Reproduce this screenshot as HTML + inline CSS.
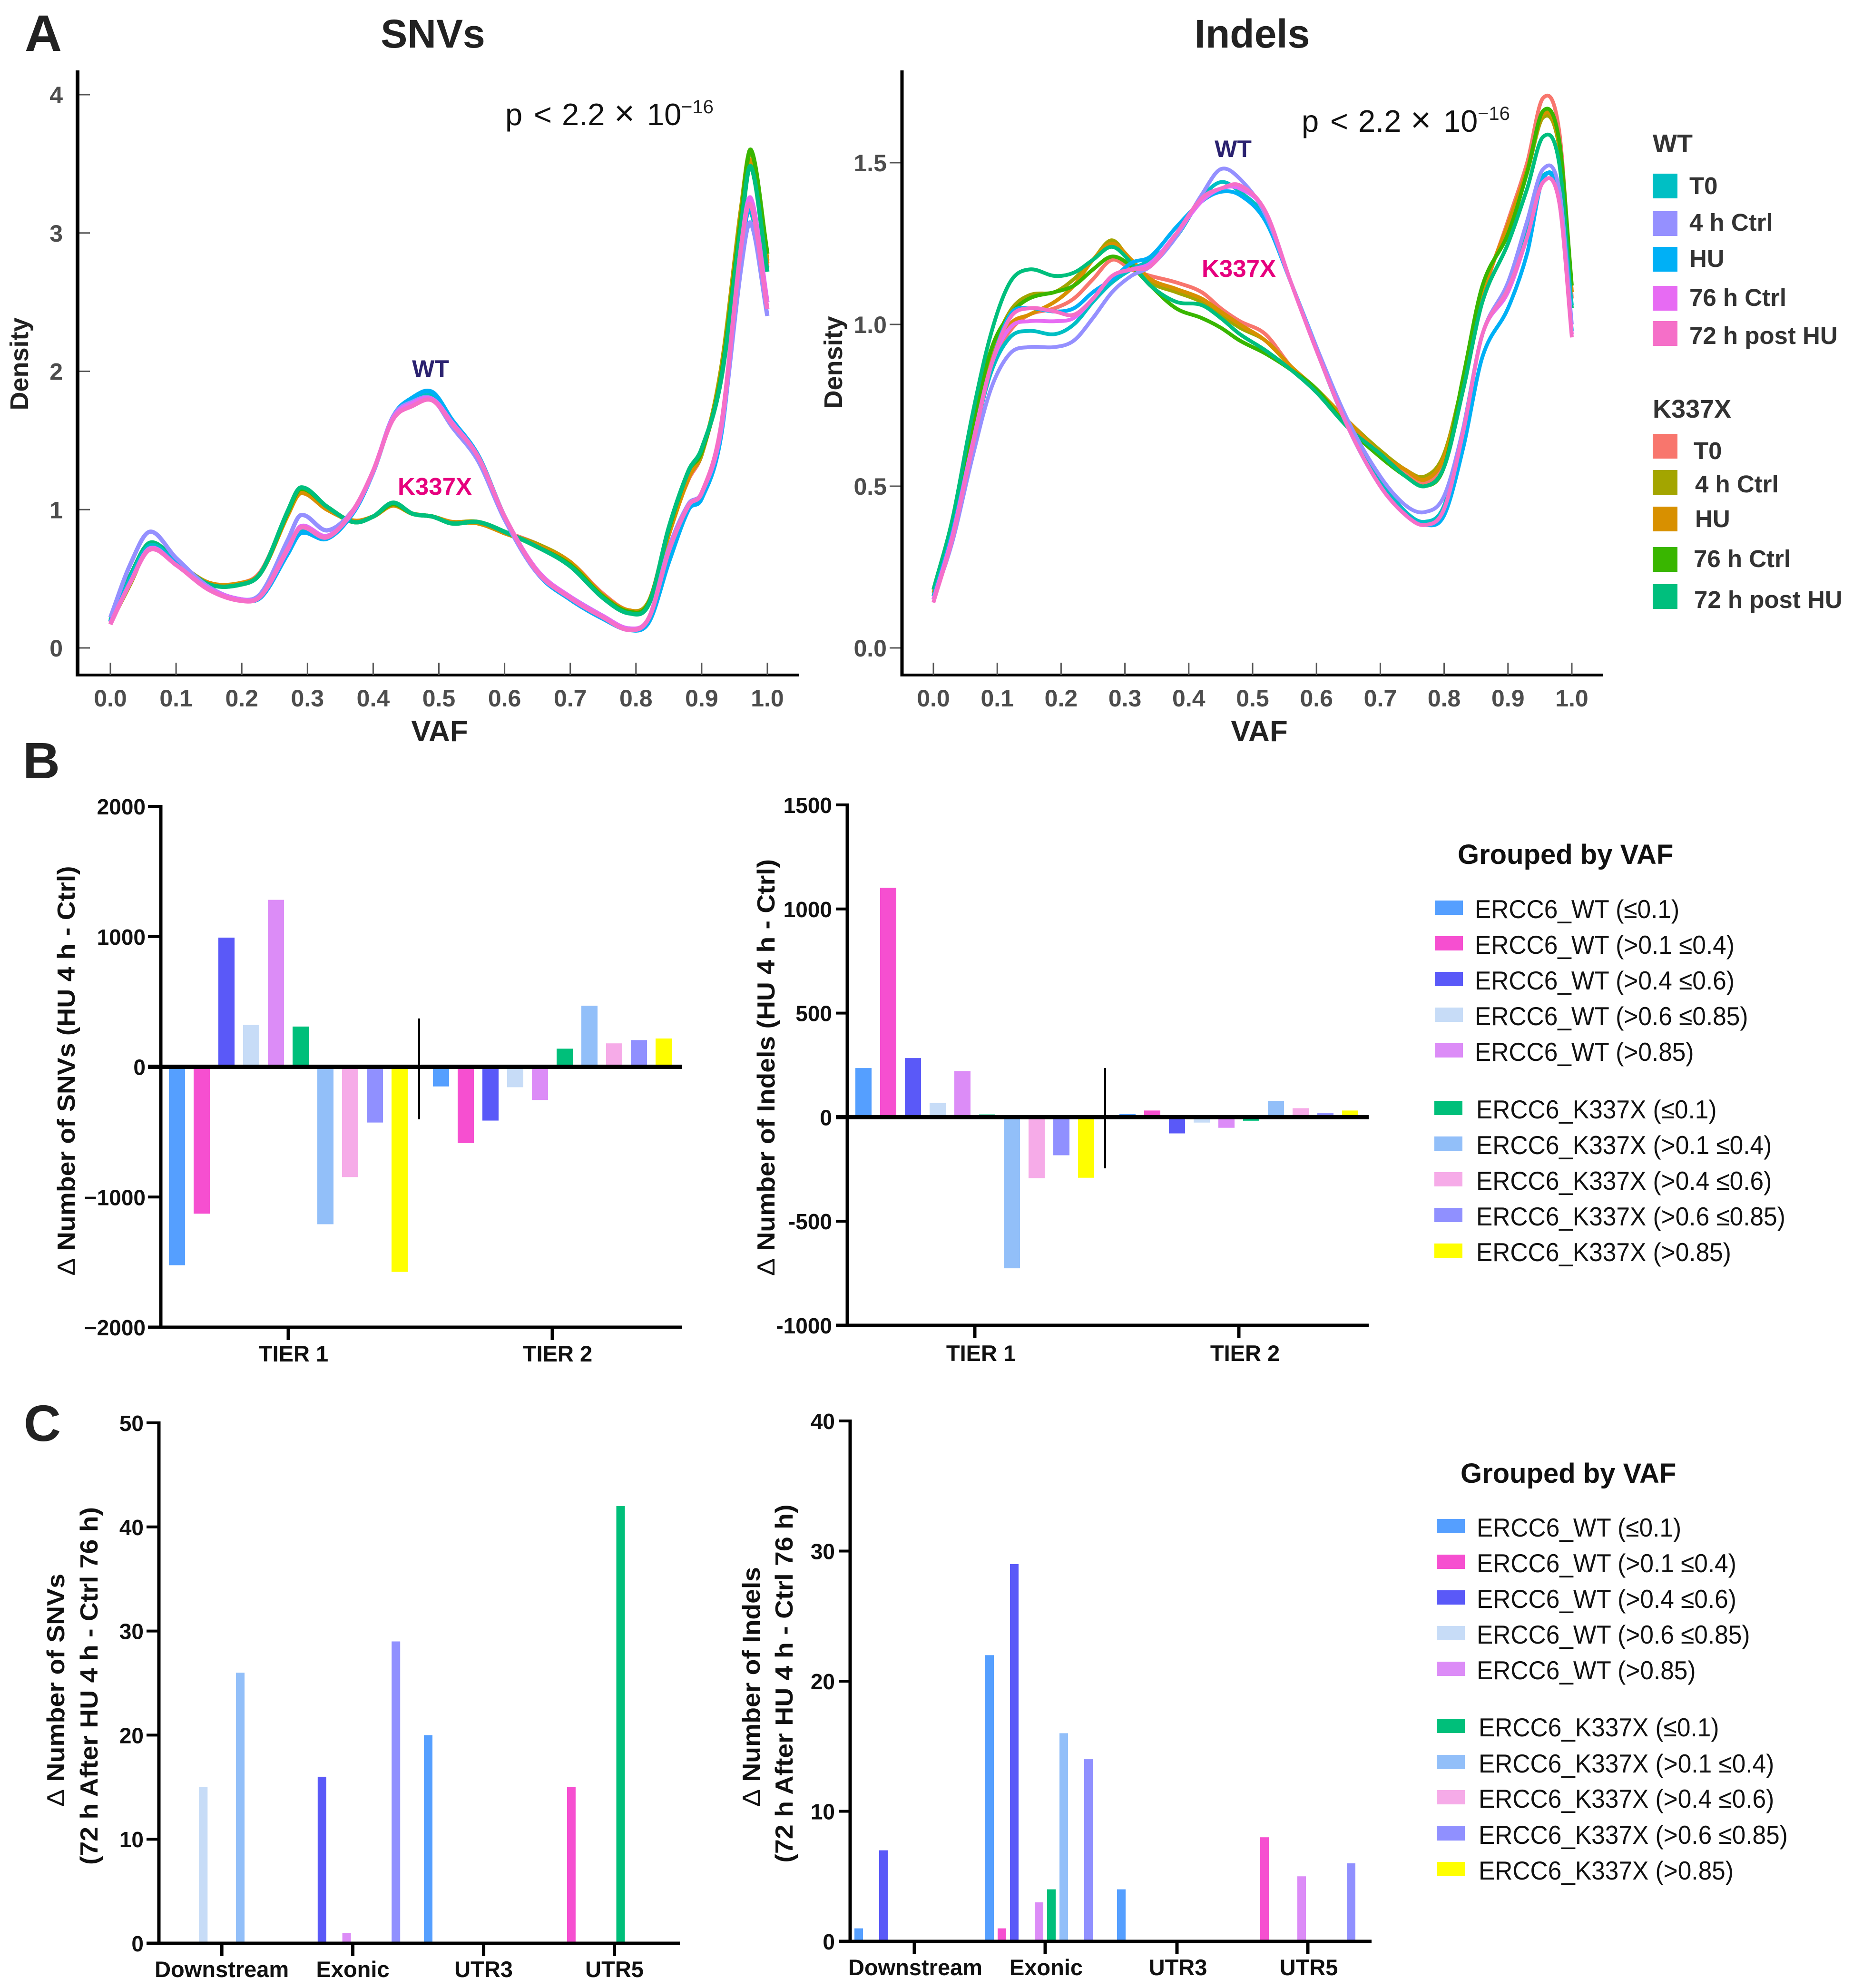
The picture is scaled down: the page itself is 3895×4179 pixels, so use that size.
<!DOCTYPE html>
<html lang="en">
<head>
<meta charset="utf-8">
<title>Density and variant count charts</title>
<style>
html,body{margin:0;padding:0;background:#fff;width:3895px;height:4179px;overflow:hidden}
svg{display:block;font-family:"Liberation Sans",sans-serif}
.panel{font-weight:700;font-size:108px;fill:#222}
.title{font-weight:700;font-size:84px;fill:#222;text-anchor:middle}
.axt{font-weight:700;font-size:62px;fill:#222;text-anchor:middle}
.dens{font-weight:700;font-size:54px;fill:#222;text-anchor:middle}
.ytitle{font-weight:700;font-size:52px;fill:#111;text-anchor:middle}
.delta{font-weight:400}
.p{font-size:65px;fill:#111}
.px{font-size:74px}
.p2{font-size:40px;fill:#222}
.wt{font-weight:700;font-size:50px;fill:#2b2270;text-anchor:middle}
.k{font-weight:700;font-size:51px;fill:#e6007e;text-anchor:middle}
.lgh{font-weight:700;font-size:54px;fill:#333}
.lgt{font-weight:700;font-size:51px;fill:#333}
.lg2h{font-weight:700;font-size:58px;fill:#111}
.lg2t{font-size:55px;fill:#111}
</style>
</head>
<body>
<svg id="fig" xmlns="http://www.w3.org/2000/svg" width="3895" height="4179" viewBox="0 0 3895 4179">
<rect width="3895" height="4179" fill="#fff"/>
<text class="panel" x="52" y="107">A</text>
<text class="panel" x="48" y="1636">B</text>
<text class="panel" x="50" y="3029" font-size="115">C</text>
<text class="title" x="910" y="100">SNVs</text>
<text class="title" x="2632" y="100">Indels</text>

<g id="densSnv"></g>
<g id="densIndel"></g>
<g id="barSnvTier"></g>
<g id="barIndelTier"></g>
<g id="barSnvRegion"></g>
<g id="barIndelRegion"></g>

<text class="dens" transform="translate(59 765) rotate(-90)">Density</text>
<text class="dens" transform="translate(1770 762) rotate(-90)">Density</text>
<text class="axt" x="924" y="1558">VAF</text>
<text class="axt" x="2647" y="1558">VAF</text>

<text class="p" y="263"><tspan x="1062">p</tspan><tspan x="1122">&lt;</tspan><tspan x="1181">2.2</tspan><tspan class="px" x="1291">×</tspan><tspan x="1360">10</tspan><tspan class="p2" x="1432" y="238">−16</tspan></text>
<text class="p" y="277"><tspan x="2736">p</tspan><tspan x="2796">&lt;</tspan><tspan x="2855">2.2</tspan><tspan class="px" x="2965">×</tspan><tspan x="3034">10</tspan><tspan class="p2" x="3106" y="252">−16</tspan></text>
<text class="wt" x="905" y="792">WT</text>
<text class="k" x="914" y="1040">K337X</text>
<text class="wt" x="2592" y="330">WT</text>
<text class="k" x="2604" y="582">K337X</text>

<text class="ytitle" transform="translate(157 2251) rotate(-90)" textLength="861" lengthAdjust="spacingAndGlyphs"><tspan class="delta">Δ</tspan> Number of SNVs (HU 4 h - Ctrl)</text>
<text class="ytitle" transform="translate(1628 2244) rotate(-90)" textLength="876" lengthAdjust="spacingAndGlyphs"><tspan class="delta">Δ</tspan> Number of Indels (HU 4 h - Ctrl)</text>
<text class="ytitle" transform="translate(135 3553) rotate(-90)" textLength="490" lengthAdjust="spacingAndGlyphs"><tspan class="delta">Δ</tspan> Number of SNVs</text>
<text class="ytitle" transform="translate(205 3544) rotate(-90)" textLength="752" lengthAdjust="spacingAndGlyphs">(72 h After HU 4 h - Ctrl 76 h)</text>
<text class="ytitle" transform="translate(1597 3546) rotate(-90)" textLength="504" lengthAdjust="spacingAndGlyphs"><tspan class="delta">Δ</tspan> Number of Indels</text>
<text class="ytitle" transform="translate(1666 3539) rotate(-90)" textLength="753" lengthAdjust="spacingAndGlyphs">(72 h After HU 4 h - Ctrl 76 h)</text>

<g>
<text class="lgh" x="3474" y="320">WT</text>
<g><rect x="3474" y="365" width="52" height="52" fill="#00bfc4"/><text class="lgt" x="3551" y="408">T0</text></g>
<g><rect x="3474" y="444" width="52" height="52" fill="#9590ff"/><text class="lgt" x="3551" y="485">4 h Ctrl</text></g>
<g><rect x="3474" y="519" width="52" height="52" fill="#00b0f6"/><text class="lgt" x="3551" y="561">HU</text></g>
<g><rect x="3474" y="601" width="52" height="52" fill="#e76bf3"/><text class="lgt" x="3551" y="643">76 h Ctrl</text></g>
<g><rect x="3474" y="675" width="52" height="52" fill="#f56fc8"/><text class="lgt" x="3551" y="723">72 h post HU</text></g>
<text class="lgh" x="3474" y="878">K337X</text>
<g><rect x="3474" y="912" width="52" height="52" fill="#f8766d"/><text class="lgt" x="3560" y="965">T0</text></g>
<g><rect x="3474" y="988" width="52" height="52" fill="#a3a500"/><text class="lgt" x="3563" y="1035">4 h Ctrl</text></g>
<g><rect x="3474" y="1065" width="52" height="52" fill="#d89000"/><text class="lgt" x="3563" y="1108">HU</text></g>
<g><rect x="3474" y="1150" width="52" height="52" fill="#39b600"/><text class="lgt" x="3560" y="1192">76 h Ctrl</text></g>
<g><rect x="3474" y="1228" width="52" height="52" fill="#00bf7d"/><text class="lgt" x="3561" y="1278">72 h post HU</text></g>
</g>

<g>
<text class="lg2h" x="3064" y="1816">Grouped by VAF</text>
<g><rect x="3016" y="1893" width="59" height="30" fill="#559fff"/><text class="lg2t" transform="translate(3100 1930) scale(.935 1)">ERCC6_WT (≤0.1)</text></g>
<g><rect x="3016" y="1968" width="59" height="30" fill="#f64fd0"/><text class="lg2t" transform="translate(3100 2005) scale(.935 1)">ERCC6_WT (&gt;0.1 ≤0.4)</text></g>
<g><rect x="3016" y="2043" width="59" height="30" fill="#5a59f8"/><text class="lg2t" transform="translate(3100 2080) scale(.935 1)">ERCC6_WT (&gt;0.4 ≤0.6)</text></g>
<g><rect x="3016" y="2118" width="59" height="30" fill="#c7dcf7"/><text class="lg2t" transform="translate(3100 2155) scale(.935 1)">ERCC6_WT (&gt;0.6 ≤0.85)</text></g>
<g><rect x="3016" y="2193" width="59" height="30" fill="#dc8cf7"/><text class="lg2t" transform="translate(3100 2230) scale(.935 1)">ERCC6_WT (&gt;0.85)</text></g>
<g><rect x="3015" y="2314" width="59" height="30" fill="#00bf7a"/><text class="lg2t" transform="translate(3103 2351) scale(.935 1)">ERCC6_K337X (≤0.1)</text></g>
<g><rect x="3015" y="2389" width="59" height="30" fill="#92bff9"/><text class="lg2t" transform="translate(3103 2426) scale(.935 1)">ERCC6_K337X (&gt;0.1 ≤0.4)</text></g>
<g><rect x="3015" y="2464" width="59" height="30" fill="#f6abe8"/><text class="lg2t" transform="translate(3103 2501) scale(.935 1)">ERCC6_K337X (&gt;0.4 ≤0.6)</text></g>
<g><rect x="3015" y="2539" width="59" height="30" fill="#9090ff"/><text class="lg2t" transform="translate(3103 2576) scale(.935 1)">ERCC6_K337X (&gt;0.6 ≤0.85)</text></g>
<g><rect x="3015" y="2614" width="59" height="30" fill="#ffff00"/><text class="lg2t" transform="translate(3103 2651) scale(.935 1)">ERCC6_K337X (&gt;0.85)</text></g>
</g>

<g>
<text class="lg2h" x="3070" y="3117">Grouped by VAF</text>
<g><rect x="3020" y="3193" width="59" height="30" fill="#559fff"/><text class="lg2t" transform="translate(3104 3230) scale(.935 1)">ERCC6_WT (≤0.1)</text></g>
<g><rect x="3020" y="3268" width="59" height="30" fill="#f64fd0"/><text class="lg2t" transform="translate(3104 3305) scale(.935 1)">ERCC6_WT (&gt;0.1 ≤0.4)</text></g>
<g><rect x="3020" y="3343" width="59" height="30" fill="#5a59f8"/><text class="lg2t" transform="translate(3104 3380) scale(.935 1)">ERCC6_WT (&gt;0.4 ≤0.6)</text></g>
<g><rect x="3020" y="3418" width="59" height="30" fill="#c7dcf7"/><text class="lg2t" transform="translate(3104 3455) scale(.935 1)">ERCC6_WT (&gt;0.6 ≤0.85)</text></g>
<g><rect x="3020" y="3493" width="59" height="30" fill="#dc8cf7"/><text class="lg2t" transform="translate(3104 3530) scale(.935 1)">ERCC6_WT (&gt;0.85)</text></g>
<g><rect x="3020" y="3613" width="59" height="30" fill="#00bf7a"/><text class="lg2t" transform="translate(3108 3650) scale(.935 1)">ERCC6_K337X (≤0.1)</text></g>
<g><rect x="3020" y="3689" width="59" height="30" fill="#92bff9"/><text class="lg2t" transform="translate(3108 3726) scale(.935 1)">ERCC6_K337X (&gt;0.1 ≤0.4)</text></g>
<g><rect x="3020" y="3763" width="59" height="30" fill="#f6abe8"/><text class="lg2t" transform="translate(3108 3800) scale(.935 1)">ERCC6_K337X (&gt;0.4 ≤0.6)</text></g>
<g><rect x="3020" y="3839" width="59" height="30" fill="#9090ff"/><text class="lg2t" transform="translate(3108 3876) scale(.935 1)">ERCC6_K337X (&gt;0.6 ≤0.85)</text></g>
<g><rect x="3020" y="3914" width="59" height="30" fill="#ffff00"/><text class="lg2t" transform="translate(3108 3951) scale(.935 1)">ERCC6_K337X (&gt;0.85)</text></g>
</g>
</svg>

<script>
// ---------- density chart data ----------
const vafTicks = [0,0.1,0.2,0.3,0.4,0.5,0.6,0.7,0.8,0.9,1];
const snvDensityTicks = [0,1,2,3,4];
const indelDensityTicks = [0,0.5,1,1.5];

const snvVaf = [0,.03,.06,.1,.15,.2,.23,.27,.29,.33,.37,.4,.43,.46,.49,.52,.56,.6,.65,.7,.75,.79,.82,.85,.88,.9,.93,.96,.975,1];
const snvK337xT0 = [.18,.47,.72,.62,.47,.47,.56,.97,1.12,1.0,.92,.95,1.03,.97,.95,.91,.91,.84,.75,.62,.39,.27,.34,.85,1.22,1.40,2.0,3.15,3.52,2.75];
const snvK337x4h = [.18,.46,.73,.62,.47,.46,.55,.97,1.13,1.01,.91,.95,1.03,.97,.95,.91,.91,.83,.75,.62,.38,.27,.34,.83,1.25,1.40,2.03,3.18,3.58,2.8];
const snvK337xHu = [.18,.47,.73,.62,.47,.47,.55,.96,1.12,1.0,.92,.95,1.03,.97,.95,.91,.9,.83,.74,.62,.38,.27,.33,.82,1.23,1.41,2.0,3.15,3.52,2.78];
const snvK337x76h = [.19,.5,.75,.63,.46,.46,.55,.98,1.15,1.02,.91,.95,1.04,.97,.95,.9,.91,.84,.73,.6,.37,.26,.33,.86,1.28,1.42,1.98,3.12,3.6,2.85];
const snvK337x72h = [.2,.52,.76,.63,.46,.46,.55,.99,1.16,1.02,.91,.95,1.05,.97,.95,.9,.91,.84,.73,.59,.36,.25,.32,.87,1.28,1.44,1.95,3.05,3.48,2.72];
const snvWtT0 = [.19,.5,.74,.62,.43,.35,.38,.70,.85,.8,.98,1.27,1.66,1.78,1.82,1.63,1.39,.95,.55,.35,.22,.14,.2,.65,1.01,1.10,1.58,2.9,3.15,2.5];
const snvWt4h = [.22,.6,.84,.65,.44,.35,.40,.78,.96,.85,1.0,1.27,1.67,1.78,1.8,1.6,1.35,.93,.54,.37,.23,.13,.22,.72,1.04,1.12,1.58,2.75,3.07,2.4];
const snvWtHu = [.19,.48,.72,.61,.43,.35,.37,.68,.83,.79,.98,1.27,1.67,1.81,1.85,1.65,1.39,.95,.54,.35,.21,.13,.19,.62,1.0,1.08,1.55,2.85,3.18,2.5];
const snvWt76h = [.18,.47,.72,.60,.43,.35,.38,.71,.88,.81,.99,1.28,1.66,1.77,1.8,1.63,1.38,.95,.56,.37,.23,.14,.22,.7,1.03,1.12,1.60,2.9,3.25,2.5];
const snvWt72h = [.17,.47,.71,.60,.42,.34,.38,.72,.87,.80,1.0,1.28,1.65,1.75,1.79,1.62,1.38,.95,.55,.36,.22,.13,.22,.70,1.03,1.12,1.62,2.9,3.20,2.45];

const indelVaf = [0,.03,.06,.09,.12,.15,.19,.22,.25,.28,.31,.34,.38,.42,.45,.48,.52,.56,.6,.65,.7,.74,.77,.8,.83,.86,.9,.93,.955,.98,1];
const indelK337xT0 = [.16,.36,.63,.87,.98,1.03,1.05,1.08,1.14,1.2,1.17,1.15,1.13,1.1,1.05,1.01,.97,.87,.8,.69,.59,.54,.51,.57,.8,1.08,1.32,1.5,1.7,1.6,1.08];
const indelK337x4h = [.18,.38,.66,.9,1.04,1.09,1.1,1.14,1.2,1.26,1.19,1.13,1.1,1.07,1.03,.99,.95,.87,.8,.7,.61,.55,.53,.6,.83,1.1,1.3,1.47,1.64,1.55,1.1];
const indelK337xHu = [.17,.37,.64,.88,1.0,1.03,1.07,1.12,1.2,1.25,1.2,1.14,1.11,1.08,1.04,1.0,.95,.87,.8,.7,.6,.55,.52,.59,.82,1.09,1.31,1.48,1.65,1.56,1.1];
const indelK337x76h = [.18,.38,.67,.92,1.03,1.08,1.1,1.12,1.17,1.21,1.18,1.12,1.05,1.02,.99,.95,.91,.86,.8,.68,.59,.53,.5,.56,.84,1.12,1.28,1.47,1.66,1.57,1.12];
const indelK337x72h = [.18,.40,.71,.97,1.13,1.17,1.15,1.16,1.2,1.24,1.19,1.12,1.07,1.06,1.02,.97,.92,.86,.79,.68,.6,.53,.5,.56,.8,1.07,1.25,1.42,1.58,1.5,1.05];
const indelWtT0 = [.16,.36,.62,.85,.96,.98,.97,1.0,1.07,1.13,1.17,1.2,1.27,1.39,1.44,1.41,1.33,1.13,.92,.68,.52,.42,.39,.44,.68,.97,1.12,1.3,1.46,1.4,1.06];
const indelWt4h = [.15,.33,.58,.8,.91,.93,.93,.95,1.02,1.1,1.15,1.18,1.27,1.4,1.48,1.45,1.34,1.13,.93,.7,.53,.44,.42,.47,.68,.97,1.13,1.32,1.48,1.42,1.0];
const indelWtHu = [.15,.36,.62,.87,1.03,1.05,1.04,1.05,1.1,1.14,1.19,1.21,1.3,1.38,1.41,1.4,1.32,1.13,.93,.68,.5,.41,.38,.41,.62,.9,1.05,1.22,1.45,1.4,.98];
const indelWt76h = [.15,.35,.62,.87,.99,1.01,1.01,1.02,1.08,1.15,1.17,1.19,1.28,1.38,1.42,1.42,1.35,1.13,.92,.68,.5,.41,.38,.43,.67,.97,1.1,1.27,1.44,1.38,.97];
const indelWt72h = [.14,.34,.61,.87,1.02,1.05,1.04,1.03,1.08,1.15,1.17,1.18,1.28,1.39,1.42,1.43,1.35,1.13,.92,.68,.5,.41,.38,.43,.67,.97,1.11,1.27,1.44,1.38,.96];

// ---------- bar chart data (order: WT five bins, then K337X five bins) ----------
const vafBins = ['wt-le-0.1','wt-0.1-0.4','wt-0.4-0.6','wt-0.6-0.85','wt-gt-0.85','k337x-le-0.1','k337x-0.1-0.4','k337x-0.4-0.6','k337x-0.6-0.85','k337x-gt-0.85'];
const tierCategories = ['TIER 1','TIER 2'];
const regionCategories = ['Downstream','Exonic','UTR3','UTR5'];

const snvTier1 = [-1524,-1128,992,321,1282,309,-1209,-847,-428,-1575];
const snvTier2 = [-151,-586,-413,-157,-255,139,469,180,205,217];
const snvTierTicks = [2000,1000,0,-1000,-2000];
const snvTierTickLabels = ['2000','1000','0','−1000','−2000'];

const indelTier1 = [236,1102,284,68,221,13,-726,-293,-183,-291];
const indelTier2 = [15,32,-78,-26,-51,-17,78,43,19,32];
const indelTierTicks = [1500,1000,500,0,-500,-1000];
const indelTierTickLabels = ['1500','1000','500','0','-500','-1000'];

const snvDownstream = [0,0,0,15,0,0,26,0,0,0];
const snvExonic = [0,0,16,0,1,0,0,0,29,0];
const snvUtr3 = [20,0,0,0,0,0,0,0,0,0];
const snvUtr5 = [0,15,0,0,0,42,0,0,0,0];
const snvRegionTicks = [50,40,30,20,10,0];
const snvRegionTickLabels = ['50','40','30','20','10','0'];

const indelDownstream = [1,0,7,0,0,0,0,0,0,0];
const indelExonic = [22,1,29,0,3,4,16,0,14,0];
const indelUtr3 = [4,0,0,0,0,0,0,0,0,0];
const indelUtr5 = [0,8,0,0,5,0,0,0,6,0];
const indelRegionTicks = [40,30,20,10,0];
const indelRegionTickLabels = ['40','30','20','10','0'];

// ---------- drawing ----------
const NS = 'http://www.w3.org/2000/svg';
const barColors = ['#559fff','#f64fd0','#5a59f8','#c7dcf7','#dc8cf7','#00bf7a','#92bff9','#f6abe8','#9090ff','#ffff00'];

function node(parent, tag, attrs, txt){
  const el = document.createElementNS(NS, tag);
  for (const k in attrs) el.setAttribute(k, attrs[k]);
  if (txt !== undefined) el.textContent = txt;
  parent.appendChild(el);
  return el;
}
function linear(d0, d1, r0, r1){ return v => r0 + (v - d0) * (r1 - r0) / (d1 - d0); }

function smoothPath(xs, ys, sx, sy){
  const n = xs.length, m = [];
  for (let i = 0; i < n; i++){
    const a = Math.max(0, i - 1), b = Math.min(n - 1, i + 1);
    m[i] = (ys[b] - ys[a]) / (xs[b] - xs[a]);
  }
  let d = 'M' + sx(xs[0]).toFixed(1) + ' ' + sy(ys[0]).toFixed(1);
  for (let i = 0; i < n - 1; i++){
    const h = (xs[i + 1] - xs[i]) / 3;
    d += 'C' + sx(xs[i] + h).toFixed(1) + ' ' + sy(ys[i] + m[i] * h).toFixed(1) + ' '
       + sx(xs[i + 1] - h).toFixed(1) + ' ' + sy(ys[i + 1] - m[i + 1] * h).toFixed(1) + ' '
       + sx(xs[i + 1]).toFixed(1) + ' ' + sy(ys[i + 1]).toFixed(1);
  }
  return d;
}

function drawDensity(o){
  const g = document.getElementById(o.id);
  const sx = linear(0, 1, o.x0, o.x1);
  const sy = linear(0, o.vRef, o.y0, o.yRef);
  const ax = node(g, 'line', {x1:o.ax, x2:o.ax, y1:148, y2:o.base + 3, stroke:'#000', 'stroke-width':o.axw});
  
  
  const bx = node(g, 'line', {x1:o.ax - o.axw / 2, x2:o.end, y1:o.base, y2:o.base, stroke:'#000', 'stroke-width':6});
  
  
  vafTicks.forEach(t => {
    const tk = node(g, 'line', {x1:sx(t), x2:sx(t), y1:o.base - 26, y2:o.base, stroke:'#555', 'stroke-width':3});
    
    
    const lb = node(g, 'text', {x:sx(t), y:o.base + 66, 'text-anchor':'middle', 'font-size':o.tickFont, 'font-weight':700, fill:'#4d4d4d'}, t.toFixed(1));
    
    
  });
  o.yTicks.forEach(t => {
    const tk = node(g, 'line', {x1:o.ax + o.tickDir * (o.axw / 2), x2:o.ax + o.tickDir * 26, y1:sy(t), y2:sy(t), stroke:'#555', 'stroke-width':3});
    
    
    const lb = node(g, 'text', {x:o.labelRight, y:sy(t) + 18, 'text-anchor':'end', 'font-size':o.tickFont, 'font-weight':700, fill:'#4d4d4d'}, o.fmt(t));
    
    
  });
  o.series.forEach(s => {
    const p = node(g, 'path', {d:smoothPath(o.xs, s[1], sx, sy), fill:'none', stroke:s[2], 'stroke-width':o.lw, 'stroke-linejoin':'round'});
    
    
  });
}

function drawBars(o){
  const g = document.getElementById(o.id);
  const sy = linear(o.vTop, o.vBot, o.yTop, o.yBot);
  o.groups.forEach((vals, gi) => {
    vals.forEach((v, i) => {
      if (v === 0) return;
      const cx = o.starts[gi] + i * o.step;
      const top = Math.min(sy(v), sy(0)), h = Math.abs(sy(v) - sy(0));
      const r = node(g, 'rect', {x:cx - o.barW / 2, y:top, width:o.barW, height:h, fill:barColors[i]});
      
      
    });
  });
  const ya = node(g, 'line', {x1:o.ax, x2:o.ax, y1:o.yTop - 3, y2:o.yBot + 3, stroke:'#000', 'stroke-width':o.axw});
  
  
  const xa = node(g, 'line', {x1:o.tickStart, x2:o.end, y1:o.yBot, y2:o.yBot, stroke:'#000', 'stroke-width':7});
  
  
  if (o.zeroLine){
    const z = node(g, 'line', {x1:o.tickStart, x2:o.end, y1:sy(0), y2:sy(0), stroke:'#000', 'stroke-width':9});
    
    
    const dv = node(g, 'line', {x1:o.divX, x2:o.divX, y1:o.divY0, y2:o.divY1, stroke:'#000', 'stroke-width':4});
    
    
  }
  o.ticks.forEach((t, i) => {
    const tk = node(g, 'line', {x1:o.tickStart, x2:o.ax, y1:sy(t), y2:sy(t), stroke:'#000', 'stroke-width':6});
    
    
    const lb = node(g, 'text', {x:o.labelRight, y:sy(t) + 17, 'text-anchor':'end', 'font-size':46, 'font-weight':700, fill:'#111'}, o.tickLabels[i]);
    
    
  });
  o.cats.forEach((c, i) => {
    const cx = o.starts[i] + 4.5 * o.step;
    const tk = node(g, 'line', {x1:cx, x2:cx, y1:o.yBot, y2:o.yBot + 27, stroke:'#000', 'stroke-width':7});
    
    
    const lb = node(g, 'text', {x:cx + o.labelShift, y:o.yBot + o.labelDy, 'text-anchor':'middle', 'font-size':47, 'font-weight':700, fill:'#111'}, c);
    
    
  });
}

drawDensity({id:'densSnv', xs:snvVaf, x0:232, x1:1613, y0:1362, yRef:199, vRef:4, ax:163, axw:8, base:1419, end:1680,
  yTicks:snvDensityTicks, tickDir:1, labelRight:132, tickFont:50, lw:9, fmt:t => String(t),
  series:[['k337x-t0',snvK337xT0,'#f8766d'],['k337x-4h',snvK337x4h,'#a3a500'],['k337x-hu',snvK337xHu,'#d89000'],['k337x-76h',snvK337x76h,'#39b600'],['k337x-72h',snvK337x72h,'#00bf7d'],
          ['wt-t0',snvWtT0,'#00bfc4'],['wt-hu',snvWtHu,'#00b0f6'],['wt-4h',snvWt4h,'#9590ff'],['wt-76h',snvWt76h,'#e76bf3'],['wt-72h',snvWt72h,'#f56fc8']]});

drawDensity({id:'densIndel', xs:indelVaf, x0:1962, x1:3304, y0:1362, yRef:342, vRef:1.5, ax:1896, axw:7, base:1419, end:3370,
  yTicks:indelDensityTicks, tickDir:-1, labelRight:1864, tickFont:50, lw:8, fmt:t => t.toFixed(1),
  series:[['k337x-t0',indelK337xT0,'#f8766d'],['k337x-4h',indelK337x4h,'#a3a500'],['k337x-hu',indelK337xHu,'#d89000'],['k337x-76h',indelK337x76h,'#39b600'],['k337x-72h',indelK337x72h,'#00bf7d'],
          ['wt-t0',indelWtT0,'#00bfc4'],['wt-hu',indelWtHu,'#00b0f6'],['wt-4h',indelWt4h,'#9590ff'],['wt-76h',indelWt76h,'#e76bf3'],['wt-72h',indelWt72h,'#f56fc8']]});

drawBars({id:'barSnvTier', groups:[snvTier1, snvTier2], cats:tierCategories, starts:[372,927], step:52, barW:34,
  vTop:2000, vBot:-2000, yTop:1695, yBot:2790, ax:338, axw:7, tickStart:311, end:1434, labelRight:306,
  ticks:snvTierTicks, tickLabels:snvTierTickLabels, zeroLine:true, divX:881, divY0:2141, divY1:2353, labelShift:11, labelDy:72});

drawBars({id:'barIndelTier', groups:[indelTier1, indelTier2], cats:tierCategories, starts:[1815,2370], step:52, barW:34,
  vTop:1500, vBot:-1000, yTop:1692, yBot:2786, ax:1781, axw:7, tickStart:1757, end:2877, labelRight:1749,
  ticks:indelTierTicks, tickLabels:indelTierTickLabels, zeroLine:true, divX:2323, divY0:2245, divY1:2456, labelShift:13, labelDy:75});

drawBars({id:'barSnvRegion', groups:[snvDownstream, snvExonic, snvUtr3, snvUtr5], cats:regionCategories, starts:[349.6,625,900,1175], step:25.9, barW:18,
  vTop:50, vBot:0, yTop:2991, yBot:4085, ax:334, axw:7, tickStart:308, end:1429, labelRight:302,
  ticks:snvRegionTicks, tickLabels:snvRegionTickLabels, zeroLine:false, labelShift:0, labelDy:71});

drawBars({id:'barIndelRegion', groups:[indelDownstream, indelExonic, indelUtr3, indelUtr5], cats:regionCategories, starts:[1805,2080,2357,2632], step:26, barW:18,
  vTop:40, vBot:0, yTop:2987, yBot:4081, ax:1787, axw:7, tickStart:1764, end:2883, labelRight:1755,
  ticks:indelRegionTicks, tickLabels:indelRegionTickLabels, zeroLine:false, labelShift:2, labelDy:71});
</script>
</body>
</html>
